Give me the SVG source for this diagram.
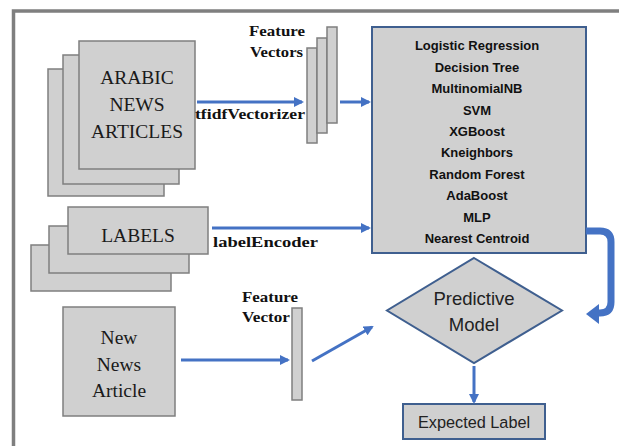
<svg xmlns="http://www.w3.org/2000/svg" width="619" height="446" viewBox="0 0 619 446">
<defs>
<style>
.doc{fill:#d0d0d0;stroke:#7f7f7f;stroke-width:1.5}
.bl{fill:#d0d0d0;stroke:#3f5f8f;stroke-width:2}
.ser{font-family:"Liberation Serif",serif;font-size:19.5px;fill:#1a1a1a;text-anchor:middle}
.lab{font-family:"Liberation Serif",serif;font-size:15px;font-weight:bold;fill:#111}
.alg{font-family:"Liberation Sans",sans-serif;font-size:13px;font-weight:bold;fill:#111;text-anchor:middle}
.san{font-family:"Liberation Sans",sans-serif;fill:#222;text-anchor:middle}
.ar{stroke:#4472c4;stroke-width:3;fill:none}
</style>
<marker id="ah" markerWidth="10" markerHeight="10" refX="8" refY="5" orient="auto" markerUnits="userSpaceOnUse">
<path d="M0,0 L10,5 L0,10 Z" fill="#4472c4"/>
</marker>
</defs>
<rect width="619" height="446" fill="#ffffff"/>
<rect x="13.5" y="11" width="620" height="450" fill="none" stroke="#7f7f7f" stroke-width="3.5"/>

<g id="arabic-news">
<rect class="doc" x="48" y="69" width="116" height="127"/>
<rect class="doc" x="63" y="55" width="116" height="129"/>
<rect class="doc" x="79" y="41" width="116" height="128"/>
<text class="ser" x="137" y="84">ARABIC</text>
<text class="ser" x="137" y="111">NEWS</text>
<text class="ser" x="137" y="138">ARTICLES</text>
</g>

<g id="feature-vectors">
<rect class="doc" x="307" y="48" width="10" height="95"/>
<rect class="doc" x="317" y="38" width="10" height="95"/>
<rect class="doc" x="327" y="27" width="10" height="96"/>
<text class="lab" x="249" y="36" textLength="56" lengthAdjust="spacingAndGlyphs">Feature</text>
<text class="lab" x="250" y="57" textLength="53" lengthAdjust="spacingAndGlyphs">Vectors</text>
</g>

<g id="classifiers">
<rect class="bl" x="372" y="27" width="214" height="226"/>
<text class="alg" x="477" y="50">Logistic Regression</text>
<text class="alg" x="477" y="71.5">Decision Tree</text>
<text class="alg" x="477" y="93">MultinomialNB</text>
<text class="alg" x="477" y="114.5">SVM</text>
<text class="alg" x="477" y="136">XGBoost</text>
<text class="alg" x="477" y="157">Kneighbors</text>
<text class="alg" x="477" y="178.5">Random Forest</text>
<text class="alg" x="477" y="200">AdaBoost</text>
<text class="alg" x="477" y="221.5">MLP</text>
<text class="alg" x="477" y="243">Nearest Centroid</text>
</g>

<g id="labels">
<rect class="doc" x="31" y="245" width="140" height="46"/>
<rect class="doc" x="49" y="226" width="140" height="47"/>
<rect class="doc" x="68" y="207" width="140" height="47"/>
<text class="ser" x="138" y="242" font-size="22">LABELS</text>
</g>

<g id="new-article">
<rect class="doc" x="63" y="307" width="112" height="109"/>
<text class="ser" x="119" y="344" font-size="21">New</text>
<text class="ser" x="119" y="371" font-size="21">News</text>
<text class="ser" x="119" y="397" font-size="21">Article</text>
</g>

<g id="feature-vector">
<rect class="doc" x="292" y="308" width="10" height="92"/>
<text class="lab" x="242" y="302" textLength="56" lengthAdjust="spacingAndGlyphs">Feature</text>
<text class="lab" x="242" y="322" textLength="48" lengthAdjust="spacingAndGlyphs">Vector</text>
</g>

<g id="predictive-model">
<polygon class="bl" points="474,258 562,310.5 474,363 387,310.5"/>
<text class="san" x="474" y="305" font-size="18.5">Predictive</text>
<text class="san" x="474" y="331" font-size="18.5">Model</text>
</g>

<g id="expected-label">
<rect class="bl" x="403" y="404" width="142" height="35"/>
<text class="san" x="474" y="428" font-size="16.3">Expected Label</text>
</g>

<g id="connectors">
<line class="ar" x1="197" y1="102" x2="302" y2="102" marker-end="url(#ah)"/>
<text class="lab" x="195" y="119" textLength="110" lengthAdjust="spacingAndGlyphs">tfidfVectorizer</text>
<line class="ar" x1="340" y1="102" x2="369" y2="102" marker-end="url(#ah)"/>
<line class="ar" x1="212" y1="228" x2="369" y2="228" marker-end="url(#ah)"/>
<text class="lab" x="213" y="247" textLength="105" lengthAdjust="spacingAndGlyphs">labelEncoder</text>
<line class="ar" x1="181" y1="360" x2="288" y2="360" marker-end="url(#ah)"/>
<line class="ar" x1="312" y1="361" x2="372" y2="327" marker-end="url(#ah)"/>
<line class="ar" x1="474" y1="366" x2="474" y2="402" marker-end="url(#ah)"/>
<path d="M586,231 H600 Q611,231 611,242 V302 Q611,313 600,313 H597" stroke="#4472c4" stroke-width="7" fill="none"/>
<polygon points="586,314 599,304 599,324" fill="#4472c4"/>
</g>
</svg>
